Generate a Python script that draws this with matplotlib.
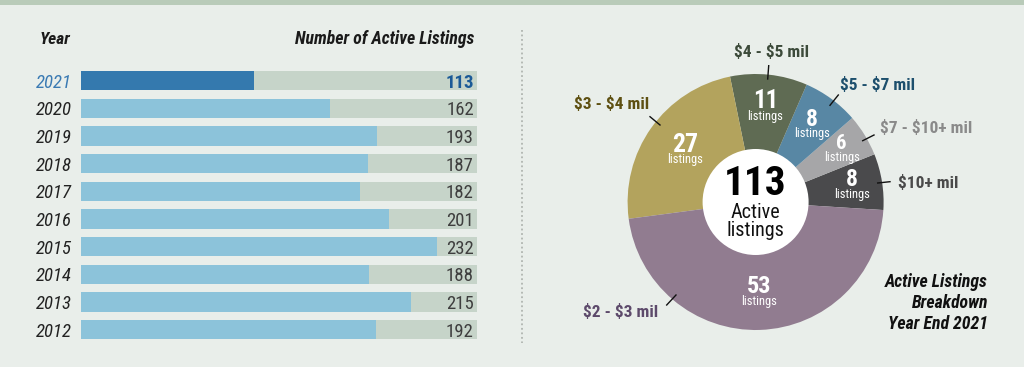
import matplotlib
matplotlib.use("Agg")
import matplotlib.pyplot as plt
from matplotlib.lines import Line2D
from matplotlib.patches import Rectangle, Circle
import numpy as np

# ---------------- data ----------------
years = ["2021", "2020", "2019", "2018", "2017", "2016", "2015", "2014", "2013", "2012"]
listings = [113, 162, 193, 187, 182, 201, 232, 188, 215, 192]
scale_max = 258

# pie (drawn counter-clockwise starting just below 3 o'clock)
price_bands = ["$10+ mil", "$7 - $10+ mil", "$5 - $7 mil", "$4 - $5 mil", "$3 - $4 mil", "$2 - $3 mil"]
band_counts = [8, 6, 8, 11, 27, 53]
total_active = 113

# ---------------- styles ----------------
W, H = 1024, 367
FONT = "Roboto Condensed"
BG = "#e9eeea"
TRACK = "#c6d4c9"
BAR = "#8cc3da"
BAR_HI = "#3479ae"
wedge_colors = ["#4a4a4c", "#a6a6a8", "#5887a4", "#5f6b53", "#b3a35d", "#917c90"]
label_colors = ["#4a4a4a", "#8a8a8a", "#1d4f6d", "#3c4a3a", "#5e5012", "#5d4a6b"]

plt.rcParams["text.parse_math"] = False
plt.rcParams["font.family"] = [FONT, "DejaVu Sans"]


def fx(x):
    return x / W


def fy(y):
    return 1 - y / H


fig = plt.figure(figsize=(W / 100, H / 100), dpi=100, facecolor=BG)

# top strip
fig.add_artist(Rectangle((0, fy(4.5)), 1, 4.5 / H, transform=fig.transFigure,
                         color="#b9cbb9", lw=0))

# ---------------- bar chart ----------------
top, bot = 66.8, 343.5
ax = fig.add_axes([fx(81.3), fy(bot), (476.7 - 81.3) / W, (bot - top) / H])
ax.set_facecolor("none")
ypos = np.arange(len(years))
ax.set_xlim(0, scale_max)
ax.set_ylim(len(years) - 0.5, -0.5)
ax.barh(ypos, [ax.get_xlim()[1]] * len(years), height=0.70, color=TRACK, lw=0)
ax.barh(ypos, listings, height=0.70,
        color=[BAR_HI if i == 0 else BAR for i in range(len(years))], lw=0)
for s in ax.spines.values():
    s.set_visible(False)
ax.set_xticks([])
ax.set_yticks(ypos)
ax.set_yticklabels(years, fontsize=13.5, style="italic")
ax.tick_params(axis="y", length=0, pad=7)
for i, t in enumerate(ax.get_yticklabels()):
    t.set_color("#3a7ab3" if i == 0 else "#222222")
for i, v in enumerate(listings):
    ax.annotate(str(v), xy=(scale_max, i), xytext=(-2, 0), textcoords="offset points",
                ha="right", va="center_baseline", fontsize=13.5,
                fontweight="bold" if i == 0 else "normal",
                color="#1b5a97" if i == 0 else "#3e3e3e")

fig.text(fx(70.5), fy(44.5), "Year", ha="right", va="baseline", fontsize=12.5,
         fontweight="bold", style="italic", color="#1a1a1a")
fig.text(fx(474.5), fy(44.5), "Number of Active Listings", ha="right", va="baseline",
         fontsize=12.8, fontweight="bold", style="italic", color="#1a1a1a")

# separator
fig.add_artist(Line2D([fx(522), fx(522)], [fy(30), fy(343)], transform=fig.transFigure,
                      color="#b0b5b0", lw=1.3, linestyle=(0, (1, 1.5))))

# ---------------- donut ----------------
cx, cy, R = 755.6, 202.0, 128.0
pax = fig.add_axes([fx(cx - R), fy(cy + R), 2 * R / W, 2 * R / H])
pax.set_facecolor("none")
wedges, _ = pax.pie(band_counts, colors=wedge_colors, startangle=-3.6, counterclock=True,
                    radius=1.0, wedgeprops=dict(lw=0))
pax.set_xlim(-1, 1)
pax.set_ylim(-1, 1)
pax.axis("off")
pax.add_patch(Circle((0, 0), 53 / R, color="white", lw=0, zorder=5))

num_r = [0.765, 0.788, 0.741, 0.738, 0.678, 0.711]
num_size = [17, 15, 17, 18, 18.5, 17.5]
for w, n, r, fs in zip(wedges, band_counts, num_r, num_size):
    mid = np.deg2rad((w.theta1 + w.theta2) / 2)
    x, y = r * np.cos(mid), r * np.sin(mid)
    pax.text(x, y, str(n), ha="center", va="baseline", fontsize=fs,
             fontweight="bold", color="white", zorder=6)
    pax.annotate("listings", xy=(x, y), xytext=(0, -8.5), textcoords="offset points",
                 ha="center", va="baseline", fontsize=9, color="white", zorder=6)

# center text
fig.text(fx(cx), fy(195), str(total_active), ha="center", va="baseline", fontsize=29.5,
         fontweight="bold", color="black", zorder=7)
fig.text(fx(cx), fy(217.5), "Active", ha="center", va="baseline", fontsize=14.5,
         color="#111111", zorder=7)
fig.text(fx(cx), fy(236.5), "listings", ha="center", va="baseline", fontsize=14.5,
         color="#111111", zorder=7)

# outer labels: (x center, baseline y) and leader lines in pixels
outer_pos = [(928.5, 187.5), (925.8, 133), (878.0, 90), (771.7, 57), (611.8, 109), (620.8, 317)]
leaders = [((877.7, 183), (890, 181.7)), ((874, 135), (862.7, 140.7)),
           ((838.3, 95), (830, 105.3)), ((768.7, 65.7), (767.7, 79)),
           ((650, 116.7), (660, 125)), ((666.7, 305), (676, 295))]
for name, col, (lx, ly), ((x0, y0), (x1, y1)) in zip(price_bands, label_colors, outer_pos, leaders):
    fig.text(fx(lx), fy(ly), name, ha="center", va="baseline", fontsize=12.5,
             fontweight="bold", color=col)
    fig.add_artist(Line2D([fx(x0), fx(x1)], [fy(y0), fy(y1)], transform=fig.transFigure,
                          color="#111111", lw=1.0))

for txt, yb in zip(["Active Listings", "Breakdown", "Year End 2021"], [287, 308, 329]):
    fig.text(fx(988), fy(yb), txt, ha="right", va="baseline", fontsize=12.8,
             fontweight="bold", style="italic", color="#111111")

fig.savefig("out.png", dpi=100, facecolor=BG)
